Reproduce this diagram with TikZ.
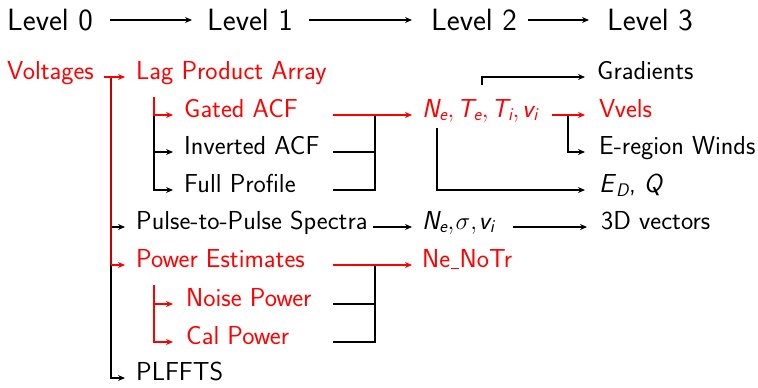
\documentclass[tikz,border=0pt]{standalone}
\usepackage{fontspec}
\usepackage{amsmath}
\usetikzlibrary{arrows.meta,calc}
\definecolor{dred}{rgb}{0.78,0,0}
\newcommand{\vi}[1]{\textit{#1}}
\newcommand{\uscore}{\kern0.02em\rule[-0.09em]{0.32em}{0.07em}\kern0.02em}
\begin{document}
\begin{tikzpicture}[x=1pt,y=-1pt,
  lbl/.style={inner sep=0pt,anchor=mid west,font=\sffamily\fontsize{26}{30}\selectfont},
  lvl/.style={inner sep=0pt,anchor=base west,font=\sffamily\fontsize{30.8}{36}\selectfont},
  hl/.style={text=red},
  conn/.style={line width=1.3pt},
  arr/.style={conn,-{Stealth[length=7pt,width=6pt,inset=2.5pt]}},
]
\useasboundingbox (0,0) rectangle (758,388);
% bus x positions
\coordinate (xa) at (111,0);
\coordinate (xb) at (154,0);
\coordinate (xd) at (333,0);
\coordinate (xc) at (375,0);
\coordinate (xe) at (437,0);
\coordinate (xg) at (552,0);
\coordinate (xf) at (568,0);
\coordinate (xh) at (513,0);
\coordinate (gradstart) at (482,85);
% level row
\node[lvl] (l0) at (7,30) {Level 0};
\node[lvl] (l1) at (207,30) {Level 1};
\node[lvl] (l2) at (431,30) {Level 2};
\node[lvl] (l3) at (607,30) {Level 3};
\draw[arr] ([xshift=17pt,yshift=10pt]l0.base east) -- ([xshift=-15pt,yshift=10pt]l1.base west);
\draw[arr] ([xshift=16pt,yshift=10pt]l1.base east) -- ([xshift=-19pt,yshift=10pt]l2.base west);
\draw[arr] ([xshift=11pt,yshift=10pt]l2.base east) -- ([xshift=-18pt,yshift=10pt]l3.base west);
% level 0 / 1
\node[lbl,hl] (volt) at (7,77) {Voltages};
\node[lbl,hl] (lag) at (136,77) {Lag Product Array};
\node[lbl,hl] (gated) at (184,115) {Gated ACF};
\node[lbl] (inv) at (184,152) {Inverted ACF};
\node[lbl] (full) at (184,190) {Full Profile};
\node[lbl] (p2p) at (136,227) {Pulse-to-Pulse Spectra};
\node[lbl,hl] (pow) at (136,265) {Power Estimates};
\node[lbl,hl] (noise) at (186,304) {Noise Power};
\node[lbl,hl] (cal) at (186,342) {Cal Power};
\node[lbl] (plf) at (136,378) {PLFFTS};
% level 2
\node[lbl,hl] (ne) at (422,115) {$\vi{N}_{\vi{e}}{,}\mkern2mu\vi{T}_{\vi{e}}{,}\mkern2mu\vi{T}_{\vi{i}}{,}\mkern2mu\vi{v}_{\vi{i}}$};
\node[lbl] (ne2) at (422,227) {$\vi{N}_{\vi{e}}{,}\mkern1mu\sigma{,}\mkern1mu\vi{v}_{\vi{i}}$};
\node[lbl,hl] (nenotr) at (422,265) {Ne\uscore NoTr};
% level 3
\node[lbl] (grad) at (597,77) {Gradients};
\node[lbl,hl] (vvels) at (599,115) {Vvels};
\node[lbl] (wind) at (599,152) {E-region Winds};
\node[lbl] (ed) at (599,190) {\vi{E}$_{\vi{D}}$, \vi{Q}};
\node[lbl] (vec) at (601,227) {3D vectors};
% voltages bus
\draw[arr] (xa |- volt.mid west) |- ([xshift=-11pt]plf.mid west);
\draw[arr] (xa |- p2p.mid west) -- ([xshift=-11pt]p2p.mid west);
\draw[conn,dred] (xa |- volt.mid west) -- (xa |- pow.mid west);
\draw[arr,red] (xa |- pow.mid west) -- ([xshift=-11pt]pow.mid west);
\draw[arr,red] ([xshift=10pt]volt.mid east) -- ([xshift=-11pt]lag.mid west);
% lag product sub-bus
\draw[arr] (xb |- gated.mid west) |- ([xshift=-11pt]full.mid west);
\draw[arr] (xb |- inv.mid west) -- ([xshift=-11pt]inv.mid west);
\draw[arr,red] ([xshift=18pt,yshift=-20pt]lag.mid west) |- ([xshift=-11pt]gated.mid west);
% power sub-bus
\draw[arr,red] ([xshift=18pt,yshift=-20pt]pow.mid west) |- ([xshift=-13pt]noise.mid west);
\draw[arr,red] (xb |- noise.mid west) |- ([xshift=-13pt]cal.mid west);
% merge into level 2
\draw[conn] (xd |- inv.mid west) -| (xc |- gated.mid west);
\draw[conn] (xd |- full.mid west) -| (xc |- gated.mid west);
\draw[arr,red] (xd |- gated.mid west) -- ([xshift=-10pt]ne.mid west);
\draw[conn] (xd |- noise.mid west) -| (xc |- pow.mid west);
\draw[conn] (xd |- cal.mid west) -| (xc |- pow.mid west);
\draw[arr,red] (xd |- pow.mid west) -- ([xshift=-10pt]nenotr.mid west);
\draw[arr] ([xshift=5pt]p2p.mid east) -- ([xshift=-10pt]ne2.mid west);
% level 2 to 3
\draw[arr] (gradstart) |- ([xshift=-12pt]grad.mid west);
\draw[arr] (xf |- ne.mid west) |- ([xshift=-14pt]wind.mid west);
\draw[arr,red] (xg |- ne.mid west) -- ([xshift=-14pt]vvels.mid west);
\draw[arr] ($(xe |- ne.south)+(0,6)$) |- ([xshift=-14pt]ed.mid west);
\draw[arr] (xh |- ne2.mid west) -- ([xshift=-14pt]vec.mid west);
\end{tikzpicture}
\end{document}
